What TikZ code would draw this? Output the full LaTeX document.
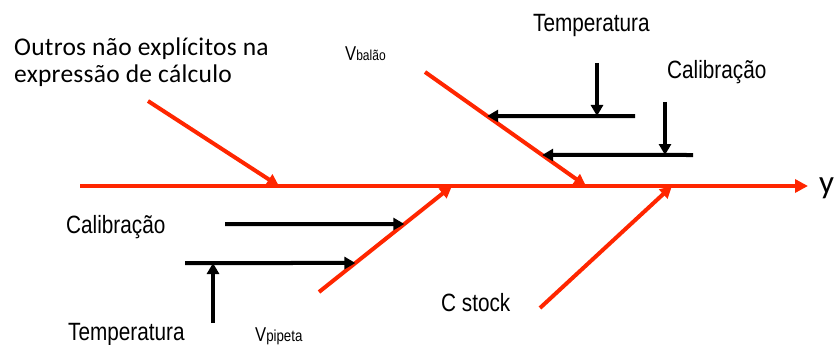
\documentclass[tikz,border=0pt]{standalone}
\usepackage{fontspec}
\usetikzlibrary{arrows.meta,calc}
\newfontfamily\narrowfont{Liberation Sans}[FakeStretch=0.83]
\newfontfamily\calibfont{Carlito}
\newfontfamily\calibwide{Carlito}[LetterSpace=1]
\definecolor{fishred}{RGB}{255,38,0}
\tikzset{
  bone/.style={draw=fishred, line width=4pt, -{Triangle[length=13pt,width=13pt]}},
  rib/.style={draw=fishred, line width=4pt, -{Triangle[length=12pt,width=12pt]}},
  cause/.style={draw=black, line width=4pt, -{Triangle[length=11pt,width=12pt]}},
  lbl/.style={inner sep=0pt, anchor=base west, font=\narrowfont\fontsize{25}{30}\selectfont},
  vlbl/.style={inner sep=0pt, anchor=base west, font=\narrowfont\fontsize{20}{22}\selectfont},
  note/.style={inner sep=0pt, anchor=base west, align=left, font=\calibwide\fontsize{25.5}{27}\selectfont}
}
\begin{document}
\begin{tikzpicture}[x=1pt,y=-1pt]
\useasboundingbox (0,0) rectangle (836,345);
% spine
\coordinate (s0) at (80,186);
\coordinate (sE) at (808,186);
\draw[bone] (s0) -- (sE);
\node[inner sep=0pt, anchor=base west, font=\calibfont\fontsize{33}{36}\selectfont] (ylab) at (819,193) {y};
% joints on spine
\coordinate (j1) at (279,186);
\coordinate (j2) at (452,186);
\coordinate (j3) at (586,186);
\coordinate (j4) at (672,186);
% ribs
\coordinate (o0) at (148,101);
\coordinate (b0) at (425,72);
\coordinate (p0) at (319,292);
\coordinate (c0) at (540,308);
\draw[rib] (o0) -- (j1);
\draw[rib] (b0) -- (j3);
\draw[rib] (p0) -- (j2);
\draw[rib] (c0) -- (j4);
% labels (base of the last line)
\node[note] (outros) at (14,83) {Outros não explícitos na\\expressão de cálculo};
\node[vlbl] (vbalao) at (345,61) {V\fontsize{14.5}{16}\selectfont balão};
\node[vlbl] (vpipeta) at (255,341) {V\fontsize{16}{18}\selectfont pipeta};
\node[lbl] (cstock) at (441,311) {C stock};
\node[lbl] (tempT) at (533,32) {Temperatura};
\node[lbl] (calT) at (667,79) {Calibração};
\node[lbl] (calB) at (66,233) {Calibração};
\node[lbl] (tempB) at (68,340) {Temperatura};
% upper causes on V balao
\coordinate (ta) at ($(b0)!0.386!(j3)$);
\coordinate (ca) at ($(b0)!0.728!(j3)$);
\coordinate (th0) at (635,116);
\coordinate (ch0) at (693,155);
\coordinate (tv0) at (597,63);
\coordinate (tv1) at (597,116);
\coordinate (cv0) at (665,102);
\coordinate (cv1) at (665,155);
\draw[cause] (th0) -- (ta);
\draw[cause] (ch0) -- (ca);
\draw[cause] (tv0) -- (tv1);
\draw[cause] (cv0) -- (cv1);
% lower causes on V pipeta
\coordinate (pa) at ($(p0)!0.6415!(j2)$);
\coordinate (pb) at ($(p0)!0.2736!(j2)$);
\coordinate (lh0) at (225,224);
\coordinate (lh1) at (185,263);
\coordinate (lv0) at (213,323);
\coordinate (lv1) at (213,263);
\draw[cause] (lh0) -- (pa);
\draw[cause] (lh1) -- (pb);
\draw[cause] (lv0) -- (lv1);
\end{tikzpicture}
\end{document}
